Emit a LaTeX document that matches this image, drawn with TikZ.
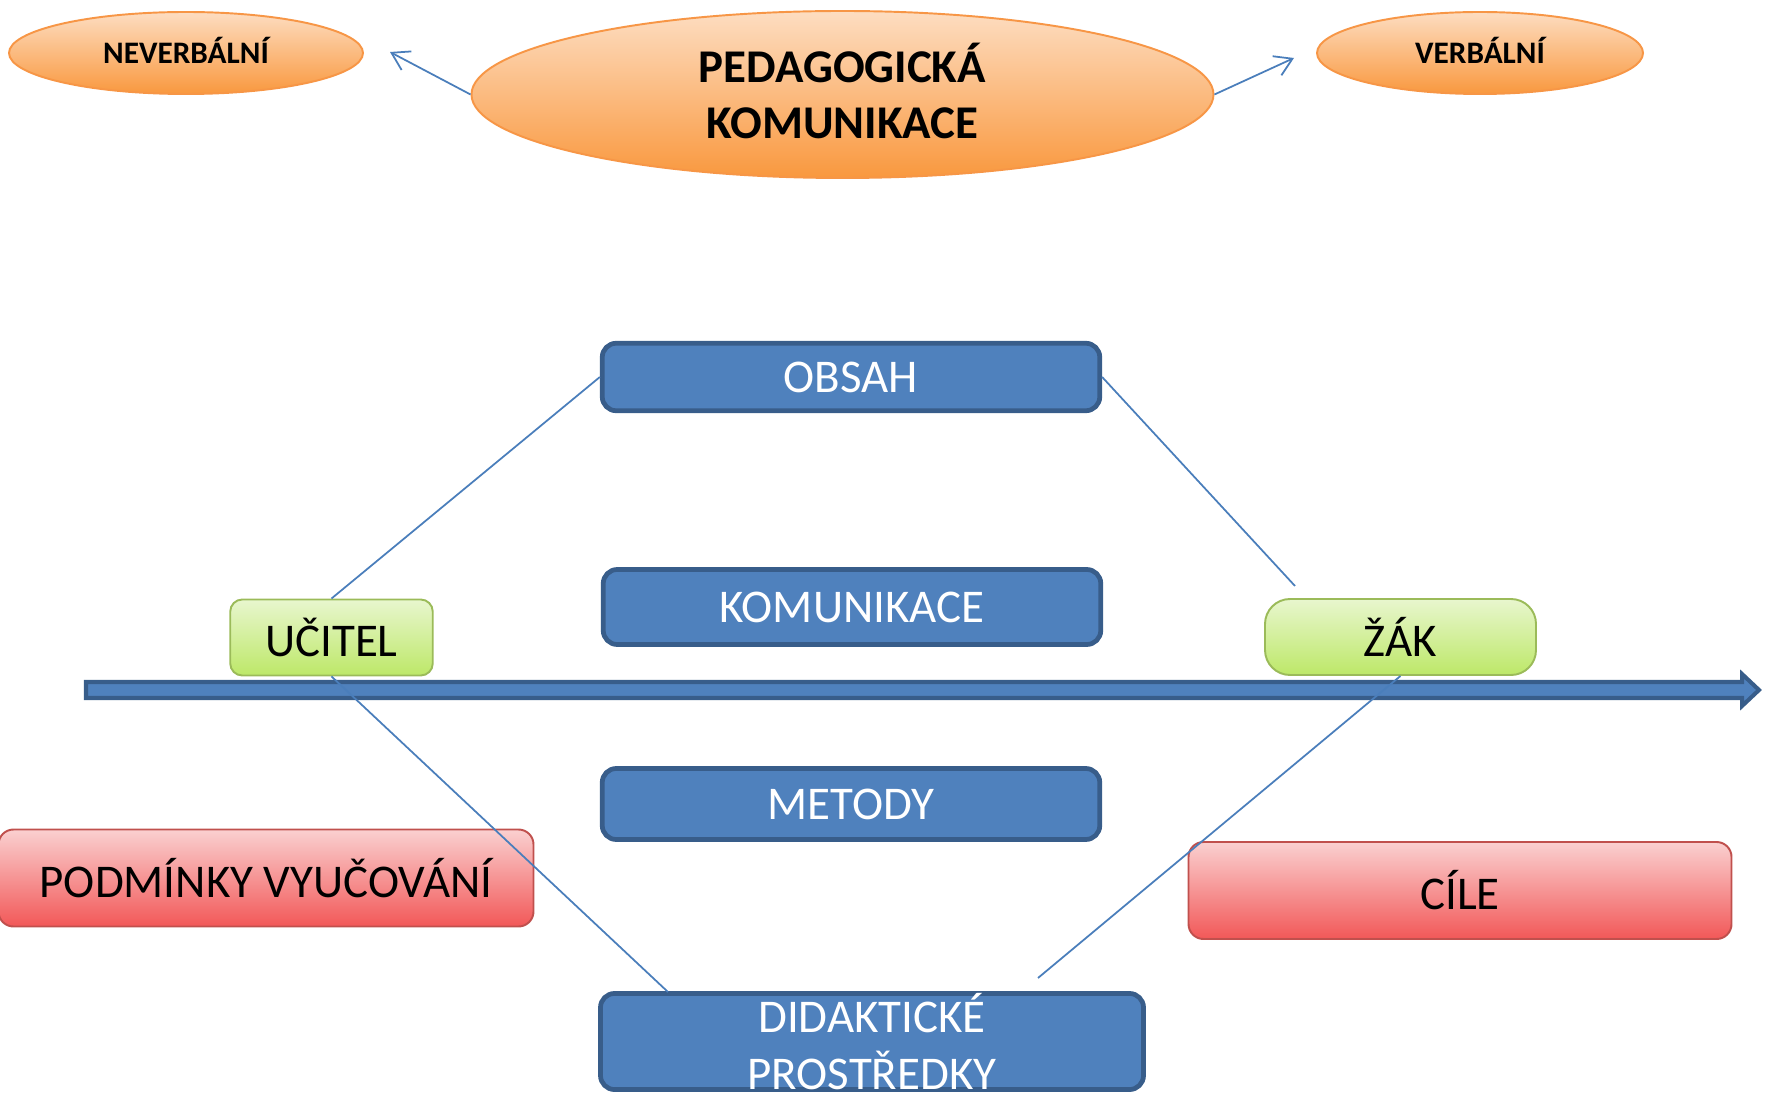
\documentclass[tikz,border=0pt]{standalone}
\usepackage{fontspec}
\setmainfont{Carlito}
\usetikzlibrary{shapes,arrows.meta}
\definecolor{boxblue}{RGB}{79,129,189}
\definecolor{boxedge}{RGB}{56,93,138}
\definecolor{linkblue}{RGB}{74,126,187}
\definecolor{orangetop}{RGB}{253,221,193}
\definecolor{orangebot}{RGB}{249,152,62}
\definecolor{orangeedge}{RGB}{247,150,70}
\definecolor{greentop}{RGB}{232,246,206}
\definecolor{greenbot}{RGB}{189,232,104}
\definecolor{greenedge}{RGB}{155,187,89}
\definecolor{redtop}{RGB}{250,208,208}
\definecolor{redbot}{RGB}{242,88,88}
\definecolor{rededge}{RGB}{192,80,77}
\newcommand{\bigtext}{\fontsize{26.7}{32.2}\selectfont}

\begin{document}
\begin{tikzpicture}[scale=0.2]
\tikzstyle{every node}+=[inner sep=0pt]
\tikzstyle{bubble}=[ellipse, draw=orangeedge, line width=1.1pt, top color=orangetop, bottom color=orangebot]
\tikzstyle{bluebox}=[rectangle, rounded corners=0.28cm, draw=boxedge, line width=2.7pt, fill=boxblue, text=white, minimum width=9.95cm, align=center, font=\bigtext]
\tikzstyle{greenbox}=[rectangle, draw=greenedge, line width=1.1pt, top color=greentop, bottom color=greenbot, minimum height=1.52cm, font=\bigtext]
\tikzstyle{redbox}=[rectangle, rounded corners=0.3cm, draw=rededge, line width=1.1pt, top color=redtop, bottom color=redbot, minimum width=10.7cm, minimum height=1.94cm, font=\bigtext]
\tikzstyle{link}=[linkblue, line width=1pt]
\useasboundingbox (0,0) rectangle (177.5,-109.3);
% top row
\node [bubble, minimum width=7.08cm, minimum height=1.64cm, text depth=0.09cm, font=\fontsize{17.8}{20}\selectfont\bfseries] (neverb) at (18.6,-5.3) {NEVERBÁLNÍ};
\node [bubble, minimum width=6.52cm, minimum height=1.64cm, text depth=0.09cm, font=\fontsize{17.8}{20}\selectfont\bfseries] (verb) at (148,-5.3) {VERBÁLNÍ};
\node [bubble, minimum width=14.84cm, minimum height=3.34cm, align=center, text depth=0.14cm, font=\bigtext\bfseries] (pedag) at (84.25,-9.45) {PEDAGOGICKÁ\\KOMUNIKACE};
\coordinate (neverbend) at (39,-5.2);
\coordinate (verbend) at (129.4,-5.8);
\draw [link, -{Straight Barb[length=3.4mm,width=4.2mm]}] (pedag.west) -- (neverbend);
\draw [link, -{Straight Barb[length=3.4mm,width=4.2mm]}] (pedag.east) -- (verbend);
% time axis
\draw [boxedge, fill=boxblue, line width=2.3pt, line join=miter] (8.6,-68.2) -- (174.2,-68.2) -- (174.2,-67.4) -- (175.9,-69) -- (174.2,-70.6) -- (174.2,-69.8) -- (8.6,-69.8) -- cycle;
% middle column
\node [bluebox, minimum height=1.35cm] (obsah) at (85.1,-37.7) {OBSAH};
\node [bluebox, minimum height=1.5cm] (komun) at (85.2,-60.7) {KOMUNIKACE};
\node [bluebox, minimum height=1.42cm] (metody) at (85.1,-80.4) {METODY};
\node [bluebox, minimum width=10.86cm, minimum height=1.92cm] (didakt) at (87.2,-104.15) {DIDAKTICKÉ\\PROSTŘEDKY};
% sides
\node [greenbox, rounded corners=0.24cm, minimum width=4.05cm] (ucitel) at (33.15,-63.75) {UČITEL};
\node [greenbox, rounded corners=0.5cm, minimum width=5.42cm] (zak) at (140.05,-63.7) {ŽÁK};
\node [redbox] (podm) at (26.6,-87.8) {PODMÍNKY VYUČOVÁNÍ};
\node [redbox, minimum width=10.86cm] (cile) at (146,-89.05) {CÍLE};
% links
\coordinate (obsahend) at (129.5,-58.6);
\coordinate (didakttop) at (66.8,-99.2);
\coordinate (zakend) at (103.8,-97.8);
\draw [link] (ucitel.north) -- (obsah.west);
\draw [link] (obsah.east) -- (obsahend);
\draw [link] (ucitel.south) -- (didakttop);
\draw [link] (zak.south) -- (zakend);
\end{tikzpicture}
\end{document}
